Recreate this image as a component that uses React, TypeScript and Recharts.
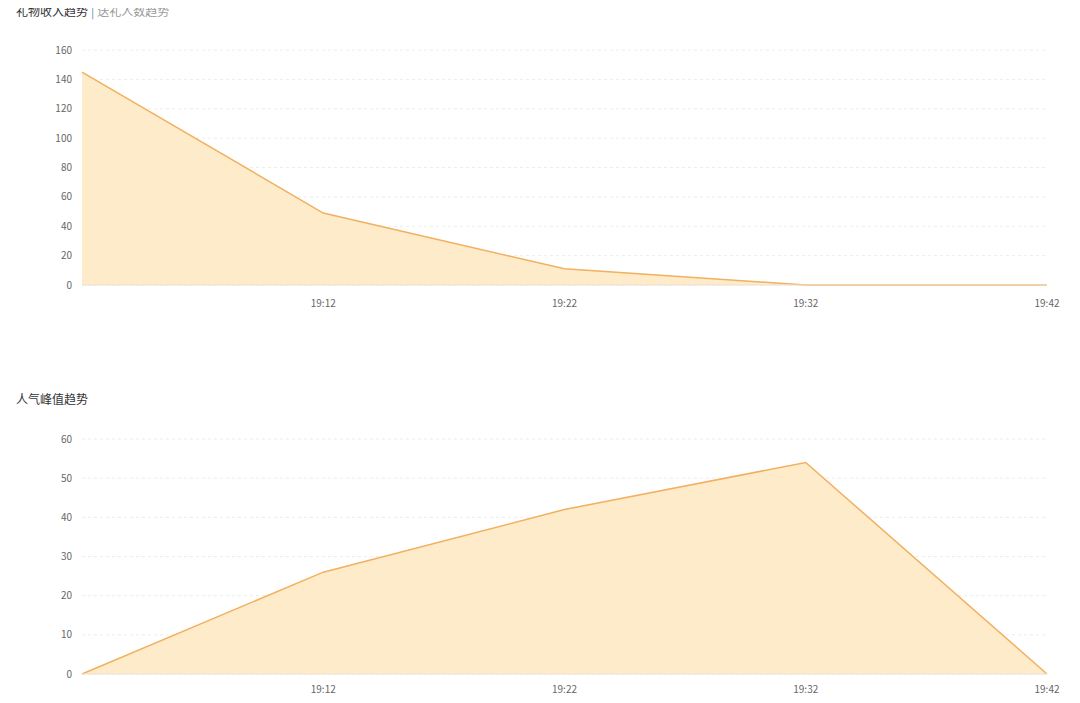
import { AreaChart, Area, XAxis, YAxis, CartesianGrid } from 'recharts';

const times = ['19:02', '19:12', '19:22', '19:32', '19:42'];
const giftIncome = [145, 49, 11, 0, 0];
const popularityPeak = [0, 26, 42, 54, 0];
const incomeTicks = [0, 20, 40, 60, 80, 100, 120, 140, 160];
const peakTicks = [0, 10, 20, 30, 40, 50, 60];

const STROKE = '#f2b060';
const FILL = '#fdebca';
const FONT = '"Noto Sans CJK SC", sans-serif';

const incomeData = times.map((t, i) => ({ time: t, value: giftIncome[i] }));
const peakData = times.map((t, i) => ({ time: t, value: popularityPeak[i] }));

interface TrendProps {
  data: { time: string; value: number }[];
  ticks: number[];
  max: number;
  labelGap: number;
}

const TrendChart = ({ data, ticks, max, labelGap }: TrendProps) => (
  <AreaChart width={1080} height={280} data={data} margin={{ top: 20, right: 33, bottom: 0, left: 0 }}>
    <CartesianGrid vertical={false} strokeDasharray="3 3" stroke="#ececec" />
    <XAxis
      dataKey="time"
      height={25}
      interval={0}
      tickLine={false}
      axisLine={{ stroke: '#ebe0cf' }}
      tickSize={6}
      tickMargin={labelGap}
      tick={{ fontSize: 10, fill: '#666', fontFamily: FONT }}
      tickFormatter={(v: string, i: number) => (i === 0 ? '' : v)}
    />
    <YAxis
      width={82}
      domain={[0, max]}
      ticks={ticks}
      axisLine={false}
      tickLine={false}
      tickSize={6}
      tickMargin={4}
      tick={{ fontSize: 10, fill: '#666', fontFamily: FONT }}
    />
    <Area
      type="linear"
      dataKey="value"
      stroke={STROKE}
      strokeWidth={1.5}
      fill={FILL}
      fillOpacity={1}
      dot={false}
      activeDot={false}
      isAnimationActive={false}
    />
  </AreaChart>
);

export default function App() {
  return (
    <div
      style={{
        position: 'relative',
        width: 1080,
        height: 703,
        margin: -8,
        overflow: 'hidden',
        background: '#fff',
        fontFamily: FONT,
      }}
    >
      <div style={{ position: 'absolute', left: 16, top: 4, fontSize: 12, lineHeight: '14px' }}>
        <span style={{ color: '#333' }}>礼物收入趋势</span>
        <span style={{ color: '#5a8fc0', margin: '0 3px' }}>|</span>
        <span style={{ color: '#999' }}>送礼人数趋势</span>
      </div>
      <div style={{ position: 'absolute', left: 0, top: 30 }}>
        <TrendChart data={incomeData} ticks={incomeTicks} max={160} labelGap={9} />
      </div>
      <div style={{ position: 'absolute', left: 16, top: 392, fontSize: 12, lineHeight: '14px', color: '#333' }}>
        人气峰值趋势
      </div>
      <div style={{ position: 'absolute', left: 0, top: 419 }}>
        <TrendChart data={peakData} ticks={peakTicks} max={60} labelGap={6} />
      </div>
    </div>
  );
}
